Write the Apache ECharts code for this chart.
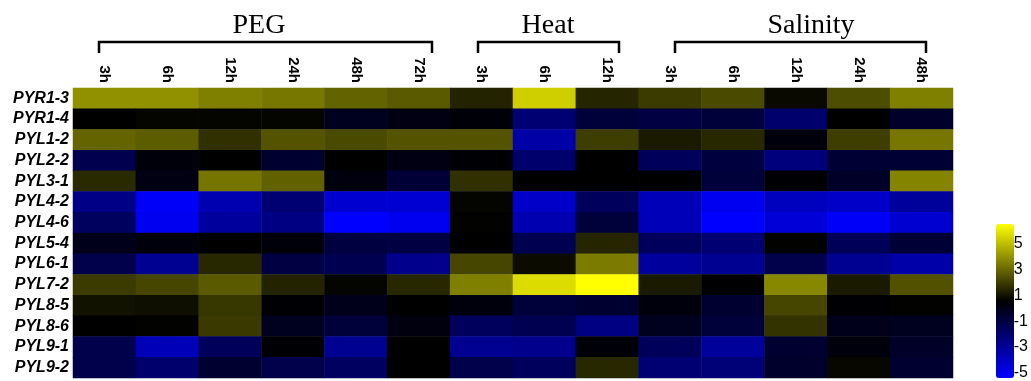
<!DOCTYPE html>
<html><head><meta charset="utf-8">
<script src="https://cdn.jsdelivr.net/npm/echarts@6/dist/echarts.min.js"></script>
<style>html,body{margin:0;padding:0;background:#fff}#c{width:1031px;height:381px}</style>
</head><body><div id="c"></div>
<script>
const genes = ['PYR1-3','PYR1-4','PYL1-2','PYL2-2','PYL3-1','PYL4-2','PYL4-6','PYL5-4','PYL6-1','PYL7-2','PYL8-5','PYL8-6','PYL9-1','PYL9-2'];
const groupNames = ['PEG','Heat','Salinity'];
const pegTimes = ['3h','6h','12h','24h','48h','72h'];
const heatTimes = ['3h','6h','12h'];
const salinityTimes = ['3h','6h','12h','24h','48h'];

// one row per gene, one value per time point
const pegValues = [
  [4.0, 4.0, 3.6, 3.4, 2.95, 2.75],
  [0.7, 0.8, 0.8, 0.8, 0.0, 0.3],
  [3.0, 2.8, 1.8, 2.6, 2.4, 2.6],
  [-1.1, 0.45, 0.7, -0.4, 0.7, 0.3],
  [1.65, 0.3, 3.35, 2.9, 0.35, -0.55],
  [-2.35, -4.95, -3.3, -1.9, -4.05, -4.1],
  [-1.45, -4.75, -2.85, -2.25, -5.1, -4.75],
  [0.1, 0.4, 0.7, 0.45, -0.75, -0.8],
  [-1.0, -2.6, 1.6, -0.8, -1.15, -2.5],
  [2.05, 2.3, 2.75, 1.5, 0.8, 1.6],
  [1.1, 1.05, 1.95, 0.6, 0.1, 0.7],
  [0.7, 0.75, 2.0, 0.0, -0.65, 0.35],
  [-1.0, -3.5, -1.35, 0.6, -2.6, 0.7],
  [-1.0, -1.75, -0.4, -1.0, -1.5, 0.7]
];
const heatValues = [
  [1.5, 5.4, 1.55],
  [0.5, -1.9, -0.65],
  [2.6, -3.1, 2.1],
  [0.6, -1.75, 0.7],
  [1.8, 0.7, 0.7],
  [0.8, -3.85, -1.4],
  [0.75, -3.3, -0.65],
  [0.7, -1.15, 1.55],
  [2.3, 0.95, 3.5],
  [3.6, 5.7, 6.5],
  [0.4, -0.65, -0.4],
  [-1.4, -1.15, -2.25],
  [-2.6, -2.5, 0.5],
  [-1.0, -1.4, 1.6]
];
const salinityValues = [
  [2.05, 2.4, 0.9, 2.45, 3.6],
  [-0.8, -0.65, -1.75, 0.7, -0.25],
  [1.3, 1.6, 0.4, 2.1, 3.4],
  [-1.35, -0.7, -2.15, -0.5, -0.5],
  [0.7, -0.65, 0.6, -0.2, 3.7],
  [-3.5, -4.75, -3.65, -3.85, -2.8],
  [-3.5, -5.1, -4.2, -4.95, -4.05],
  [-1.4, -1.9, 0.75, -1.3, -0.55],
  [-2.85, -2.6, -1.0, -2.6, -3.15],
  [1.3, 0.65, 3.8, 1.3, 2.55],
  [0.4, -0.4, 2.3, 0.6, 0.75],
  [0.0, -0.65, 1.85, 0.1, 0.0],
  [-1.35, -2.8, -0.4, 0.4, -0.2],
  [-1.9, -2.0, -0.3, 0.85, -0.4]
];
const colorbarTicks = [5, 3, 1, -1, -3, -5];
const scaleMin = -5.1, scaleMax = 6.5;

// build columns and data
const groups = [
  {name: groupNames[0], times: pegTimes, values: pegValues},
  {name: groupNames[1], times: heatTimes, values: heatValues},
  {name: groupNames[2], times: salinityTimes, values: salinityValues}
];
const columns = [];
groups.forEach(g => g.times.forEach(t => columns.push(g.name + '|' + t)));
const data = [];
genes.forEach((gene, r) => {
  let c = 0;
  groups.forEach(g => {
    g.values[r].forEach(v => { data.push([c, r, v]); c++; });
  });
});

const chart = echarts.init(document.getElementById('c'), null, {renderer: 'canvas'});
const brackets = [
  {x1: 99, x2: 432, tx: 259},
  {x1: 478, x2: 619, tx: 548},
  {x1: 675, x2: 926, tx: 811}
];
const graphic = [];
brackets.forEach((b, i) => {
  graphic.push({
    type: 'polyline', silent: true,
    shape: {points: [[b.x1, 53], [b.x1, 42], [b.x2, 42], [b.x2, 53]]},
    style: {stroke: '#000', lineWidth: 2.5, fill: null}
  });
  graphic.push({
    type: 'text', silent: true, x: b.tx, y: 26,
    style: {text: groupNames[i], font: '28px "Liberation Serif", "Times New Roman", serif',
      fill: '#000', align: 'center', verticalAlign: 'middle'}
  });
});

chart.setOption({
  animation: false,
  backgroundColor: '#fff',
  grid: [
    {left: 73, top: 88, width: 880, height: 290},
    {left: 996, top: 224, width: 18, height: 154}
  ],
  xAxis: [
    {type: 'category', gridIndex: 0, position: 'top', data: columns,
      axisLine: {show: false}, axisTick: {show: false}, splitLine: {show: false},
      axisLabel: {rotate: 90, margin: 5, interval: 0, fontFamily: 'Arial, "Liberation Sans", sans-serif',
        fontWeight: 'bold', fontSize: 15, color: '#000', formatter: v => v.split('|')[1]}},
    {type: 'value', gridIndex: 1, show: false}
  ],
  yAxis: [
    {type: 'category', gridIndex: 0, data: genes, inverse: true,
      axisLine: {show: false}, axisTick: {show: false}, splitLine: {show: false},
      axisLabel: {margin: 4, interval: 0, fontFamily: 'Arial, "Liberation Sans", sans-serif',
        fontWeight: 'bold', fontStyle: 'italic', fontSize: 16, color: '#000'}},
    {type: 'value', gridIndex: 1, position: 'right', min: scaleMin, max: scaleMax,
      axisLine: {show: false}, axisTick: {show: false}, splitLine: {show: false},
      axisLabel: {customValues: colorbarTicks, margin: 1, fontFamily: 'Arial, "Liberation Sans", sans-serif',
        fontSize: 16, color: '#000'}}
  ],
  visualMap: {
    type: 'continuous', min: scaleMin, max: scaleMax, seriesIndex: 0,
    calculable: false, realtime: false, orient: 'vertical',
    left: 996, top: 224, itemWidth: 18, itemHeight: 154, padding: 0,
    text: ['', ''], showLabel: false,
    inRange: {color: ['#0000ff', '#000000', '#ffff00']}
  },
  series: [{
    type: 'heatmap', xAxisIndex: 0, yAxisIndex: 0, data: data,
    itemStyle: {borderWidth: 0}, emphasis: {disabled: true}
  }],
  graphic: graphic
});
</script>
</body></html>
